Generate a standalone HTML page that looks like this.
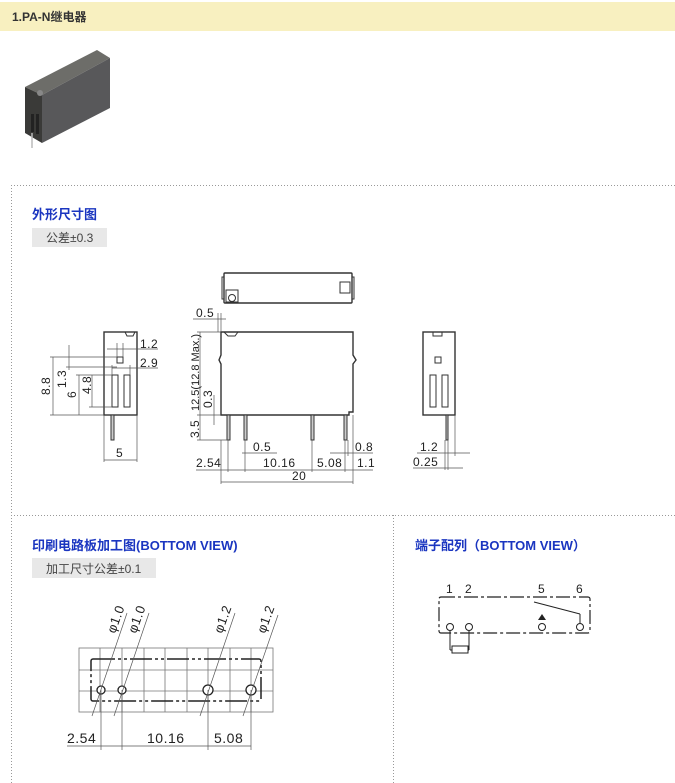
<!DOCTYPE html>
<html><head><meta charset="utf-8"><style>
html,body{margin:0;padding:0;background:#fff;width:675px;height:783px;overflow:hidden}
svg{display:block}
.t{font-family:"Liberation Sans","Noto Sans CJK SC",sans-serif}
.d{font-family:"Liberation Sans",sans-serif;font-size:12px;fill:#222;letter-spacing:0.5px}
.h{font-family:"Liberation Sans","Noto Sans CJK SC",sans-serif;font-size:13px;font-weight:bold;fill:#1a35c0}
.g{font-family:"Liberation Sans","Noto Sans CJK SC",sans-serif;font-size:12px;fill:#444}
</style></head><body>
<svg width="675" height="783" viewBox="0 0 675 783" xmlns="http://www.w3.org/2000/svg">
<rect x="0" y="2" width="675" height="29" fill="#f8f0c0"/>
<text x="12" y="21" class="t" font-size="12" font-weight="bold" fill="#333">1.PA-N继电器</text>
<polygon points="25,87 97,50 110,58 42,95" fill="#6d6d69"/>
<polygon points="25,87 42,95 42,143 25,133" fill="#3a3a38"/>
<polygon points="42,95 110,58 110,108 42,143" fill="#58585a"/>
<circle cx="40" cy="93" r="3" fill="#888"/>
<rect x="31" y="114" width="3" height="18" fill="#222"/><rect x="36" y="114" width="3" height="20" fill="#222"/>
<line x1="32" y1="133" x2="32" y2="148" stroke="#bbb" stroke-width="1.5"/>
<g stroke="#999" stroke-width="1" stroke-dasharray="1,2" fill="none">
<line x1="11" y1="185.5" x2="675" y2="185.5"/>
<line x1="11.5" y1="185" x2="11.5" y2="783"/>
<line x1="11" y1="515.5" x2="675" y2="515.5"/>
<line x1="393.5" y1="515" x2="393.5" y2="783"/>
</g>
<text x="32" y="219" class="h">外形尺寸图</text>
<rect x="32" y="228" width="75" height="19" fill="#e8e8e8"/>
<text x="46" y="242" class="g">公差±0.3</text>
<text x="32" y="550" class="h">印刷电路板加工图(BOTTOM VIEW)</text>
<rect x="32" y="558" width="124" height="20" fill="#e8e8e8"/>
<text x="46" y="573" class="g">加工尺寸公差±0.1</text>
<text x="415" y="550" class="h">端子配列（BOTTOM VIEW）</text>

<g stroke="#333" stroke-width="1" fill="none">
<rect x="224" y="273" width="128" height="30" rx="1" stroke-width="1.4"/>
<rect x="222" y="277" width="2" height="22"/><rect x="352" y="277" width="2" height="22"/>
<circle cx="232" cy="298" r="3.5"/><rect x="226" y="290" width="12" height="12"/>
<rect x="340" y="282" width="10" height="11"/>
<path d="M221,332 H353 V355 L356,360 L353,364 V412 H349 V415 H221 V364 L219,360 L221,355 Z" stroke-width="1.4"/>
<path d="M224,332 L228,336 H235 L238,332"/>
<g fill="#ccc"><rect x="227" y="415" width="3" height="25"/><rect x="244" y="415" width="3" height="25"/><rect x="311" y="415" width="3" height="25"/><rect x="344" y="415" width="3" height="25"/></g>
<rect x="104" y="332" width="33" height="83" stroke-width="1.4"/>
<path d="M125,332 L127,336 H133 L135,332"/>
<rect x="117" y="357" width="6" height="6"/>
<rect x="112" y="375" width="6" height="32"/><rect x="124" y="375" width="6" height="32"/>
<rect x="111" y="415" width="3" height="25" fill="#ccc"/>
<rect x="423" y="332" width="32" height="83" stroke-width="1.4"/>
<path d="M433,332 V336 H442 V332"/>
<rect x="435" y="357" width="6" height="6"/>
<rect x="430" y="375" width="6" height="32"/><rect x="442" y="375" width="6" height="32"/>
<rect x="446" y="415" width="2" height="25" fill="#ccc"/>
</g>

<g stroke="#555" stroke-width="0.7" fill="none">
<line x1="193" y1="319" x2="226" y2="319"/><line x1="218" y1="313" x2="218" y2="332"/><line x1="221" y1="313" x2="221" y2="332"/>
<line x1="200" y1="332" x2="200" y2="440"/><line x1="197" y1="332" x2="221" y2="332"/><line x1="197" y1="415" x2="221" y2="415"/><line x1="197" y1="440" x2="228" y2="440"/>
<line x1="214" y1="395" x2="214" y2="425"/>
<line x1="242" y1="453" x2="277" y2="453"/><line x1="330" y1="453" x2="373" y2="453"/>
<line x1="196" y1="470" x2="373" y2="470"/><line x1="221" y1="482" x2="353" y2="482"/>
<line x1="228" y1="440" x2="228" y2="472"/><line x1="245" y1="440" x2="245" y2="472"/><line x1="312" y1="440" x2="312" y2="472"/><line x1="345" y1="440" x2="345" y2="472"/><line x1="348" y1="440" x2="348" y2="456"/><line x1="353" y1="415" x2="353" y2="484"/><line x1="221" y1="440" x2="221" y2="484"/>
<line x1="107" y1="349" x2="158" y2="349"/><line x1="117" y1="343" x2="117" y2="357"/><line x1="123" y1="343" x2="123" y2="357"/>
<line x1="112" y1="368" x2="158" y2="368"/><line x1="112" y1="365" x2="112" y2="375"/><line x1="130" y1="365" x2="130" y2="375"/>
<line x1="53" y1="357" x2="53" y2="415"/><line x1="50" y1="357" x2="117" y2="357"/><line x1="50" y1="415" x2="104" y2="415"/>
<line x1="69" y1="345" x2="69" y2="370"/><line x1="66" y1="367" x2="117" y2="367"/>
<line x1="79" y1="375" x2="79" y2="415"/><line x1="76" y1="375" x2="112" y2="375"/>
<line x1="92" y1="375" x2="92" y2="407"/><line x1="89" y1="407" x2="112" y2="407"/>
<line x1="104" y1="415" x2="104" y2="462"/><line x1="137" y1="415" x2="137" y2="462"/><line x1="104" y1="460" x2="137" y2="460"/>
<line x1="417" y1="453" x2="470" y2="453"/><line x1="413" y1="468" x2="463" y2="468"/>
<line x1="445" y1="440" x2="445" y2="470"/><line x1="448" y1="440" x2="448" y2="470"/><line x1="455" y1="415" x2="455" y2="456"/>
</g>
<g class="d">
<text x="196" y="317">0.5</text>
<text x="140" y="348">1.2</text><text x="140" y="367">2.9</text>
<text x="253" y="451">0.5</text><text x="355" y="451">0.8</text>
<text x="196" y="467">2.54</text><text x="263" y="467">10.16</text><text x="317" y="467">5.08</text><text x="357" y="467">1.1</text>
<text x="292" y="480">20</text><text x="116" y="457">5</text>
<text x="420" y="451">1.2</text><text x="413" y="466">0.25</text>
<text transform="translate(50,395) rotate(-90)">8.8</text>
<text transform="translate(66,388) rotate(-90)">1.3</text>
<text transform="translate(76,398) rotate(-90)">6</text>
<text transform="translate(91,394) rotate(-90)">4.8</text>
<text transform="translate(199,411) rotate(-90)" font-size="11" letter-spacing="0">12.5(12.8 Max.)</text>
<text transform="translate(212,408) rotate(-90)">0.3</text>
<text transform="translate(199,438) rotate(-90)">3.5</text>
</g>

<g stroke="#777" stroke-width="0.8" fill="none">
<rect x="79" y="648" width="194" height="64"/>
<line x1="100" y1="648" x2="100" y2="712"/><line x1="122" y1="648" x2="122" y2="712"/><line x1="144" y1="648" x2="144" y2="712"/><line x1="165" y1="648" x2="165" y2="712"/><line x1="187" y1="648" x2="187" y2="712"/><line x1="208" y1="648" x2="208" y2="712"/><line x1="230" y1="648" x2="230" y2="712"/><line x1="251" y1="648" x2="251" y2="712"/>
<line x1="79" y1="670" x2="273" y2="670"/><line x1="79" y1="691" x2="273" y2="691"/>
</g>
<rect x="91" y="659" width="170" height="42" rx="2" fill="none" stroke="#222" stroke-width="1.5" stroke-dasharray="22,3,3,3,3,3"/>
<g stroke="#222" stroke-width="1.3" fill="#fff">
<circle cx="101" cy="690" r="4"/><circle cx="122" cy="690" r="4"/><circle cx="208" cy="690" r="5"/><circle cx="251" cy="690" r="5"/>
</g>
<g stroke="#555" stroke-width="0.7" fill="none">
<line x1="127" y1="613" x2="92" y2="716"/><line x1="149" y1="613" x2="114" y2="716"/><line x1="235" y1="613" x2="200" y2="716"/><line x1="278" y1="615" x2="243" y2="716"/>
<line x1="101" y1="690" x2="101" y2="750"/><line x1="122" y1="690" x2="122" y2="750"/><line x1="208" y1="690" x2="208" y2="750"/><line x1="251" y1="690" x2="251" y2="750"/>
<line x1="67" y1="746" x2="251" y2="746"/>
</g>
<g class="d" font-size="13">
<text x="67" y="743" font-size="14">2.54</text><text x="147" y="743" font-size="14">10.16</text><text x="214" y="743" font-size="14">5.08</text>
<text transform="translate(115,634) rotate(-70)" font-size="13">φ1.0</text>
<text transform="translate(136,634) rotate(-70)" font-size="13">φ1.0</text>
<text transform="translate(222,634) rotate(-70)" font-size="13">φ1.2</text>
<text transform="translate(265,634) rotate(-70)" font-size="13">φ1.2</text>
</g>

<g class="d"><text x="446" y="593">1</text><text x="465" y="593">2</text><text x="538" y="593">5</text><text x="576" y="593">6</text></g>
<rect x="439" y="597" width="151" height="36" rx="2" fill="none" stroke="#222" stroke-width="1.2" stroke-dasharray="14,3,3,3"/>
<g stroke="#222" stroke-width="1" fill="#fff">
<line x1="534" y1="602" x2="580" y2="614"/><line x1="580" y1="614" x2="580" y2="623"/>
<line x1="450" y1="631" x2="450" y2="650"/><line x1="469" y1="631" x2="469" y2="650"/>
<line x1="450" y1="650" x2="452" y2="650"/><line x1="468" y1="650" x2="469" y2="650"/>
<rect x="452" y="646" width="16" height="7"/>
<circle cx="450" cy="627" r="3.5"/><circle cx="469" cy="627" r="3.5"/><circle cx="542" cy="627" r="3.5"/><circle cx="580" cy="627" r="3.5"/>
</g>
<polygon points="542,614 538,620 546,620" fill="#222"/>
</svg>
</body></html>
